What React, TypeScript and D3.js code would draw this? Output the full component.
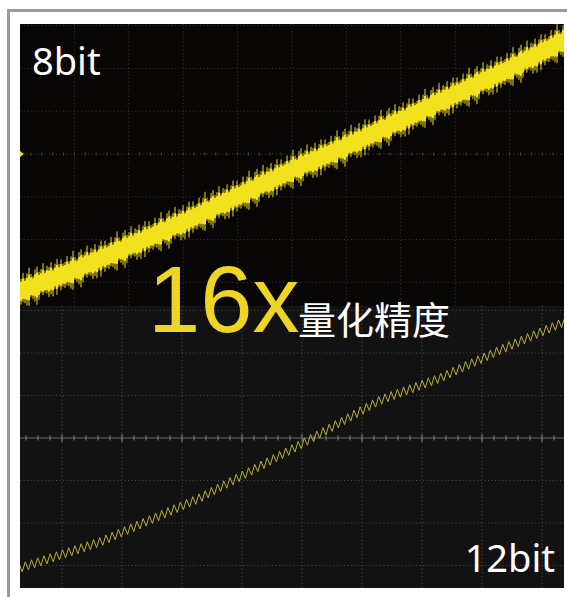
import { useEffect, useRef } from "react";
import * as d3 from "d3";

// 8bit trace: centre of the band, in divisions (x: 0..10, y: relative to centre axis)
const topRampX = [0, 1, 2, 3, 4, 5, 6, 7, 8, 9, 10];
const topRampY = [-3.2, -2.71, -2.15, -1.59, -0.98, -0.37, 0.19, 0.79, 1.4, 2.0, 2.66];

// 12bit trace: centre of the zigzag, in divisions
const bottomRampX = [0.3, 1.63, 3.3, 4.97, 6.3, 7.3, 8.3, 9.37];
const bottomRampY = [-3.06, -2.45, -1.41, -0.16, 0.89, 1.41, 2.07, 2.73];

// hand-read spike lengths of the noisy 8bit band (px), cycled along the trace
const spikeUp = [4, 9, 3, 7, 12, 5, 2, 8, 10, 4, 6, 11, 3, 7, 5, 9, 2, 6, 10, 4, 8, 3];
const spikeDown = [6, 3, 10, 5, 2, 8, 11, 4, 7, 3, 9, 5, 12, 2, 6, 4, 10, 7, 3, 8, 5, 9];

const labels = { top: "8bit", bottom: "12bit", big: "16x", sub: "量化精度" };

const App = () => {
  const svgRef = useRef<SVGSVGElement>(null);

  useEffect(() => {
    if (!svgRef.current) return;
    d3.select(svgRef.current).selectAll("*").remove();

    const width = 567;
    const height = 597;
    const panel = { left: 20, right: 564, top: 24, mid: 306, bottom: 588 };

    const svg = d3.select(svgRef.current)
      .attr("width", width)
      .attr("height", height)
      .attr("viewBox", `0 0 ${width} ${height}`);

    svg.append("rect").attr("width", width).attr("height", height).attr("fill", "#ffffff");

    // outer grey frame
    svg.append("rect").attr("x", 7).attr("y", 9).attr("width", width - 7).attr("height", 3).attr("fill", "#9a9a9a");
    svg.append("rect").attr("x", 7).attr("y", 9).attr("width", 3).attr("height", height - 9).attr("fill", "#9a9a9a");

    const defs = svg.append("defs");
    defs.append("clipPath").attr("id", "clipTop").append("rect")
      .attr("x", panel.left).attr("y", panel.top)
      .attr("width", panel.right - panel.left).attr("height", panel.mid - panel.top);
    defs.append("clipPath").attr("id", "clipBottom").append("rect")
      .attr("x", panel.left).attr("y", panel.mid)
      .attr("width", panel.right - panel.left).attr("height", panel.bottom - panel.mid);

    // ---------- top panel (8bit) ----------
    const gTop = svg.append("g").attr("clip-path", "url(#clipTop)");
    gTop.append("rect")
      .attr("x", panel.left).attr("y", panel.top)
      .attr("width", panel.right - panel.left).attr("height", panel.mid - panel.top)
      .attr("fill", "#080505");

    const xTop = d3.scaleLinear().domain([0, 10]).range([panel.left, panel.right]);
    const yTop = d3.scaleLinear().domain([0, 1]).range([154, 154 - 42.8]);

    gTop.selectAll(".vgrid")
      .data(d3.range(1, 10))
      .join("line")
      .attr("x1", d => xTop(d)).attr("x2", d => xTop(d))
      .attr("y1", panel.top).attr("y2", panel.mid)
      .attr("stroke", "#383636").attr("stroke-width", 1).attr("stroke-dasharray", "1,2.6");

    gTop.selectAll(".hgrid")
      .data(d3.range(-3, 4))
      .join("line")
      .attr("x1", panel.left).attr("x2", panel.right)
      .attr("y1", d => yTop(d)).attr("y2", d => yTop(d))
      .attr("stroke", d => (d === 0 ? "#444242" : "#383636"))
      .attr("stroke-width", 1).attr("stroke-dasharray", "1,2.6");

    // minor ticks on centre axis
    gTop.selectAll(".tick")
      .data(d3.range(0, 50))
      .join("line")
      .attr("x1", d => xTop(d / 5)).attr("x2", d => xTop(d / 5))
      .attr("y1", yTop(0) - 1.5).attr("y2", yTop(0) + 1.5)
      .attr("stroke", "#444242").attr("stroke-width", 1);

    // channel marker
    svg.append("path")
      .attr("d", `M${panel.left},${yTop(0) - 3} L${panel.left + 4},${yTop(0)} L${panel.left},${yTop(0) + 3}Z`)
      .attr("fill", "#e8d820");

    const topRamp = d3.scaleLinear().domain(topRampX).range(topRampY);
    const cols = d3.range(panel.left, panel.right + 1, 1);
    const colData = cols.map((px, i) => {
      const yc = yTop(topRamp(xTop.invert(px)));
      const k = Math.floor(i / 2);
      return {
        px,
        yc,
        up: spikeUp[k % spikeUp.length],
        down: spikeDown[(k * 7) % spikeDown.length],
      };
    });

    gTop.selectAll(".fringe")
      .data(colData)
      .join("line")
      .attr("x1", d => d.px + 0.5).attr("x2", d => d.px + 0.5)
      .attr("y1", d => d.yc - 8 - d.up).attr("y2", d => d.yc + 8 + d.down)
      .attr("stroke", "#7d7212").attr("stroke-width", 1);

    gTop.selectAll(".core")
      .data(colData)
      .join("line")
      .attr("x1", d => d.px + 0.5).attr("x2", d => d.px + 0.5)
      .attr("y1", d => d.yc - 7 - d.up * 0.5).attr("y2", d => d.yc + 7 + d.down * 0.5)
      .attr("stroke", "#f2e21e").attr("stroke-width", 1);

    // ---------- bottom panel (12bit) ----------
    const gBot = svg.append("g").attr("clip-path", "url(#clipBottom)");
    gBot.append("rect")
      .attr("x", panel.left).attr("y", panel.mid)
      .attr("width", panel.right - panel.left).attr("height", panel.bottom - panel.mid)
      .attr("fill", "#121212");

    const xBot = d3.scaleLinear().domain([0, 10]).range([2, 602]);
    const yBot = d3.scaleLinear().domain([0, 1]).range([438, 438 - 42.5]);

    gBot.selectAll(".vgrid")
      .data(d3.range(1, 10))
      .join("line")
      .attr("x1", d => xBot(d)).attr("x2", d => xBot(d))
      .attr("y1", panel.mid).attr("y2", panel.bottom)
      .attr("stroke", "#555555").attr("stroke-width", 1).attr("stroke-dasharray", "1,2.6");

    gBot.selectAll(".hgrid")
      .data([-3, -2, -1, 1, 2, 3])
      .join("line")
      .attr("x1", panel.left).attr("x2", panel.right)
      .attr("y1", d => yBot(d)).attr("y2", d => yBot(d))
      .attr("stroke", "#4a4a4a").attr("stroke-width", 1).attr("stroke-dasharray", "1,2.6");

    gBot.append("line")
      .attr("x1", panel.left).attr("x2", panel.right)
      .attr("y1", yBot(0)).attr("y2", yBot(0))
      .attr("stroke", "#6a6a6a").attr("stroke-width", 1);

    gBot.selectAll(".tick")
      .data(d3.range(0, 50))
      .join("line")
      .attr("x1", d => xBot(d / 5)).attr("x2", d => xBot(d / 5))
      .attr("y1", d => yBot(0) - (d % 5 === 0 ? 4 : 2.5))
      .attr("y2", d => yBot(0) + (d % 5 === 0 ? 4 : 2.5))
      .attr("stroke", "#858585").attr("stroke-width", 1);

    const bottomRamp = d3.scaleLinear().domain(bottomRampX).range(bottomRampY);
    const period = 6.2;
    const amp = 4.5;
    const zig = d3.range(panel.left - 4, panel.right + 4, period / 2).map((px, i) => {
      const yc = yBot(bottomRamp(xBot.invert(px)));
      return [px, yc + (i % 2 === 0 ? amp : -amp)] as [number, number];
    });

    gBot.append("path")
      .datum(zig)
      .attr("d", d3.line().curve(d3.curveLinear))
      .attr("fill", "none")
      .attr("stroke", "#b8ae3c")
      .attr("stroke-width", 1);

    // ---------- labels ----------
    svg.append("text")
      .attr("x", 32).attr("y", 75)
      .style("font-family", "'Noto Sans', sans-serif")
      .style("font-size", "38px")
      .style("fill", "#ffffff")
      .text(labels.top);

    svg.append("text")
      .attr("x", 555).attr("y", 572)
      .attr("text-anchor", "end")
      .style("font-family", "'Noto Sans', sans-serif")
      .style("font-size", "38px")
      .style("fill", "#ffffff")
      .text(labels.bottom);

    svg.append("text")
      .attr("x", 148).attr("y", 332)
      .style("font-family", "'Liberation Sans', Arial, sans-serif")
      .style("font-size", "94px")
      .style("fill", "#eed523")
      .text(labels.big);

    svg.append("text")
      .attr("x", 298).attr("y", 334)
      .style("font-family", "'Noto Sans CJK SC', sans-serif")
      .style("font-size", "38px")
      .style("fill", "#ffffff")
      .text(labels.sub);
  }, []);

  return (
    <div style={{ position: "absolute", left: 0, top: 0 }}>
      <svg ref={svgRef} style={{ display: "block" }}></svg>
    </div>
  );
};

export default App;
